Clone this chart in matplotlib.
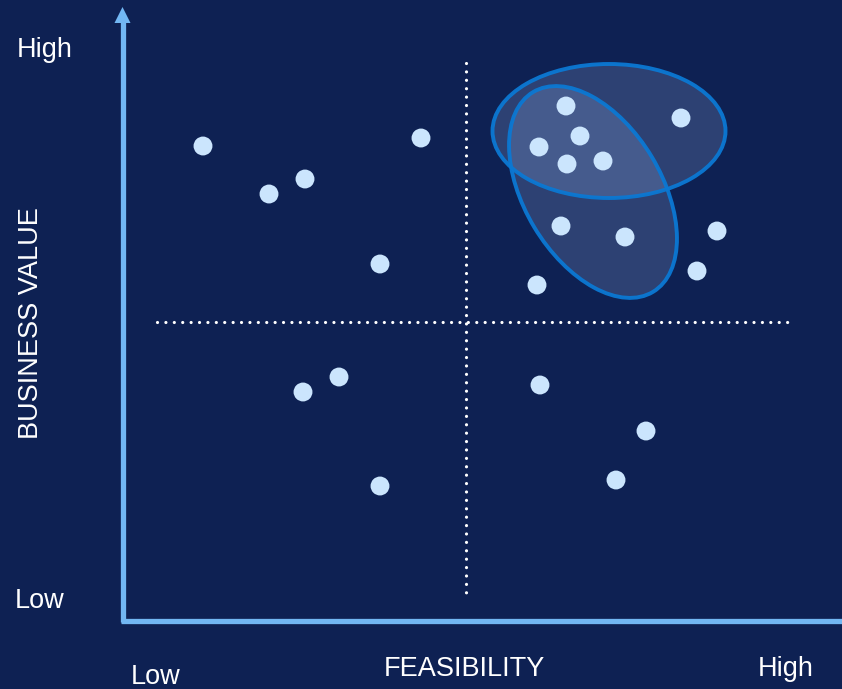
import matplotlib
matplotlib.use("Agg")
import matplotlib.pyplot as plt
from matplotlib.patches import Ellipse, Polygon

# ---- data (pixel-like coordinates on the canvas: x right, y down) ----
feasibility = [203, 269, 305, 421, 380, 303, 339, 380, 566, 580, 539, 567, 603,
               681, 561, 625, 717, 697, 537, 540, 646, 616]
business_value = [146, 194, 179, 138, 264, 392, 377, 486, 106, 136, 147, 164, 161,
                  118, 226, 237, 231, 271, 285, 385, 431, 480]

# clusters: (center x, center y, width, height, angle)
cluster_cx = [609, 593]
cluster_cy = [131, 192]
cluster_w = [233, 233]
cluster_h = [134, 137]
cluster_angle = [0, 59]

x_labels = ["Low", "High"]
y_labels = ["Low", "High"]

BG = "#0e2153"
AXIS = "#72b7f3"
DOT = "#cbe5fd"
EDGE = "#0b78d3"

plt.rcParams['font.family'] = ['Liberation Sans', 'DejaVu Sans']

fig = plt.figure(figsize=(8.42, 6.89), dpi=100, facecolor=BG)
ax = fig.add_axes([0, 0, 1, 1])
ax.set_facecolor(BG)
ax.set_xlim(0, 842)
ax.set_ylim(689, 0)
ax.axis('off')

# quadrant dotted lines
ax.plot([157, 790], [322, 322], color='white', lw=2.3, linestyle=(0, (0.01, 2.62)),
        dash_capstyle='round', solid_capstyle='round', zorder=2)
ax.plot([466, 466], [63, 594], color='white', lw=2.3, linestyle=(0, (0.01, 2.62)),
        dash_capstyle='round', solid_capstyle='round', zorder=2)

# cluster ellipses
for cx, cy, w, h, a in zip(cluster_cx, cluster_cy, cluster_w, cluster_h, cluster_angle):
    ax.add_patch(Ellipse((cx, cy), w, h, angle=a, facecolor='#a3bcee', alpha=0.21,
                         edgecolor='none', zorder=3))
    ax.add_patch(Ellipse((cx, cy), w, h, angle=a, facecolor='none',
                         edgecolor=EDGE, lw=2.8, alpha=0.95, zorder=4))

# points
ax.scatter(feasibility, business_value, s=185, color=DOT, edgecolors='none', zorder=5)

# axes lines
ax.plot([122.5, 122.5], [622, 20], color=AXIS, lw=3.8, solid_capstyle='butt', zorder=6)
ax.add_patch(Polygon([[114.5, 23], [130.5, 23], [122.5, 7]], closed=True,
                     facecolor=AXIS, edgecolor='none', zorder=6))
ax.plot([120.5, 842], [620.5, 620.5], color=AXIS, lw=3.8, solid_capstyle='butt', zorder=6)

# texts
fs = 19.5
ax.text(17, 50, y_labels[1], color='white', fontsize=fs, va='center', ha='left')
ax.text(15, 601, y_labels[0], color='white', fontsize=fs, va='center', ha='left')
ax.text(31, 323, "BUSINESS VALUE", color='white', fontsize=fs, va='center', ha='center',
        rotation=90)
ax.text(156, 677, x_labels[0], color='white', fontsize=fs, va='center', ha='center')
ax.text(464, 669, "FEASIBILITY", color='white', fontsize=fs, va='center', ha='center')
ax.text(786, 669, x_labels[1], color='white', fontsize=fs, va='center', ha='center')

fig.savefig("out.png", dpi=100, facecolor=BG)
